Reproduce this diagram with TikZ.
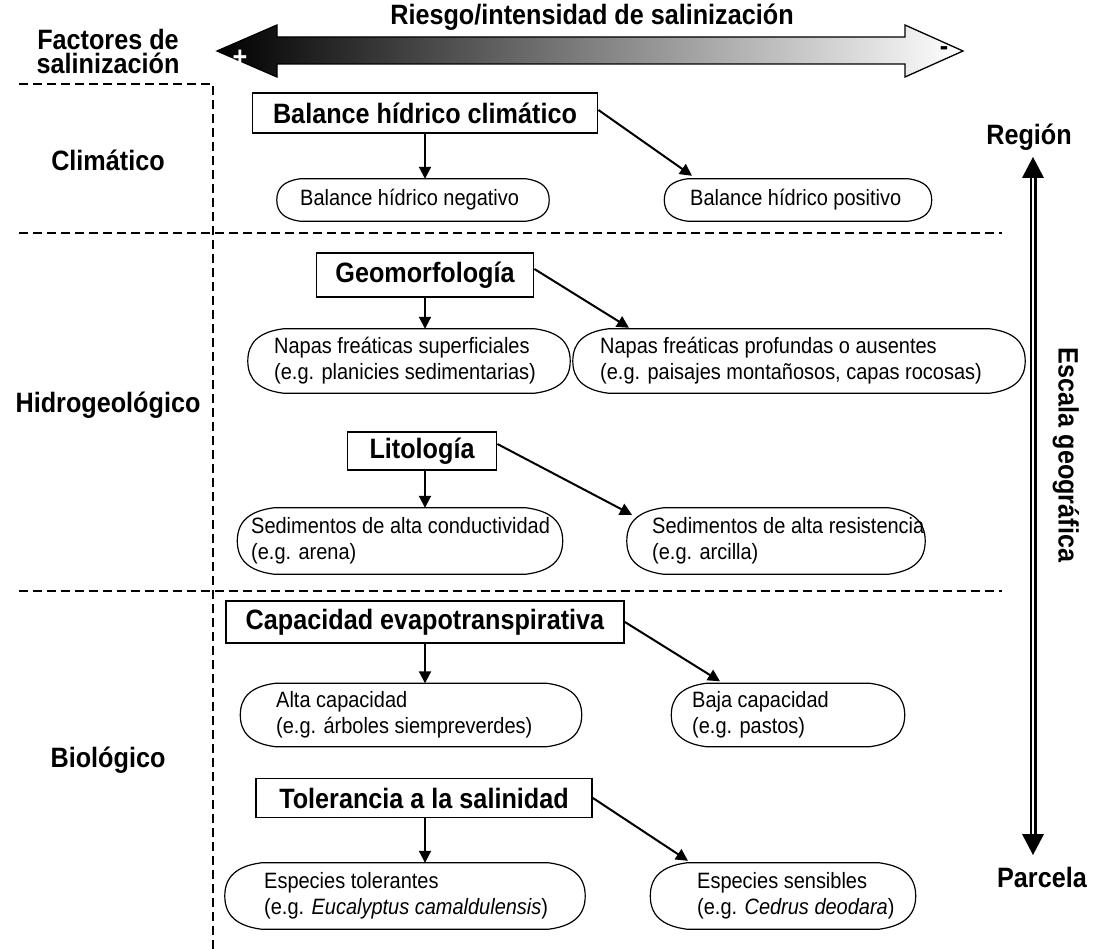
\documentclass[tikz,border=0pt]{standalone}
\usepackage{fontspec}
\setmainfont{Liberation Sans}[FakeStretch=0.9]
\usetikzlibrary{arrows.meta,calc}
\newcommand\myoval[1]{%
 \draw[ovalline] let \p1=(#1.north west), \p2=(#1.south east), \n1={\y1-\y2}, \n2={0.55*\n1} in
 ({\x1+\n2},\y1) -- ({\x2-\n2},\y1)
 .. controls ({\x2-0.3*\n2},{\y1-0.05*\n1}) and (\x2,{\y1-0.22*\n1}) .. (\x2,{(\y1+\y2)/2})
 .. controls (\x2,{\y2+0.22*\n1}) and ({\x2-0.3*\n2},{\y2+0.05*\n1}) .. ({\x2-\n2},\y2)
 -- ({\x1+\n2},\y2)
 .. controls ({\x1+0.3*\n2},{\y2+0.05*\n1}) and (\x1,{\y2+0.22*\n1}) .. (\x1,{(\y1+\y2)/2})
 .. controls (\x1,{\y1-0.22*\n1}) and ({\x1+0.3*\n2},{\y1-0.05*\n1}) .. cycle;}
\begin{document}
\begin{tikzpicture}[x=1pt,y=-1pt,
 hd/.style={draw,line width=1.8pt,font=\bfseries\fontsize{28}{30}\selectfont,inner sep=0pt,minimum height=40pt},
 oval/.style={inner sep=0pt},
 ovalline/.style={line width=1.2pt},
 otxt/.style={anchor=west,align=left,font=\fontsize{22.2}{26}\selectfont,inner sep=0pt},
 lab/.style={font=\bfseries\fontsize{28}{25}\selectfont,align=center,inner sep=0pt},
 sign/.style={font=\bfseries\fontsize{28}{28}\selectfont,inner sep=0pt,anchor=base},
 arr/.style={line width=2pt,-{Triangle[length=12pt,width=12pt]}},
 sep/.style={line width=2.6pt,dash pattern=on 9pt off 5pt}]
\useasboundingbox (0,0) rectangle (1098,949);

% title and gradient arrow
\node[lab] (title) at (592,17) {Riesgo/intensidad de salinización};
\shadedraw[left color=black,right color=white,draw=black,line width=1.3pt]
 (217,51) -- (277,25) -- (277,37) -- (905,37) -- (905,25) -- (963,51) -- (905,77) -- (905,64) -- (277,64) -- (277,77) -- cycle;
\node[sign,text=white] (plus) at (240,67) {+};
\node[sign] (minus) at (944,56) {-};

% left labels
\node[sign,text depth=0pt] (fact1) at (108,50) {Factores de};
\node[sign,text height=20pt] (fact2) at (108,74) {salinización};
\node[lab] (clim) at (108,160) {Climático};
\node[lab] (hidro) at (108,405) {Hidrogeológico};
\node[lab] (bio) at (108,760) {Biológico};

% separators
\draw[sep] (19,84) -- (213,84) -- (213,949);
\draw[sep] (19,233) -- (1002,233);
\draw[sep] (19,591) -- (1002,591);

% climatic
\node[hd,minimum width=345pt] (bhc) at (425,113) {Balance hídrico climático};
\node[oval,minimum width=272pt,minimum height=42pt] (neg) at (413,200) {};
\node[otxt] (negt) at (300,200) {Balance hídrico negativo};
\node[oval,minimum width=267pt,minimum height=42pt] (pos) at (798,200) {};
\node[otxt] (post) at (690,200) {Balance hídrico positivo};
\draw[arr] (bhc.south) -- (bhc.south |- neg.north);
\draw[arr] ($(bhc.east)+(0,-3)$) -- ($(pos.north)+(-106,-3)$);

% geomorfologia
\node[hd,minimum width=217pt,minimum height=44pt] (geo) at (425,275) {Geomorfología};
\node[oval,minimum width=322pt,minimum height=64pt] (sup) at (409,361) {};
\node[otxt] (supt) at (274,361) {Napas freáticas superficiales\\(e.g. planicies sedimentarias)};
\node[oval,minimum width=452pt,minimum height=64pt] (prof) at (799,361) {};
\node[otxt] (proft) at (600,361) {Napas freáticas profundas o ausentes\\(e.g. paisajes montañosos, capas rocosas)};
\draw[arr] (geo.south) -- (geo.south |- sup.north);
\draw[arr] ($(geo.east)+(0,-6)$) -- ($(prof.north)+(-170,-1)$);

% litologia
\node[hd,minimum width=149pt,minimum height=38pt] (lit) at (422,451) {Litología};
\node[oval,minimum width=325pt,minimum height=66pt] (cond) at (400,541) {};
\node[otxt] (condt) at (251,541) {Sedimentos de alta conductividad\\(e.g. arena)};
\node[oval,minimum width=298pt,minimum height=66pt] (res) at (776,541) {};
\node[otxt] (rest) at (652,541) {Sedimentos de alta resistencia\\(e.g. arcilla)};
\draw[arr] (lit.south -| 425,0) -- (cond.north -| 425,0);
\draw[arr] ($(lit.east)+(0,-7)$) -- ($(res.north)+(-144,7)$);

% capacidad
\node[hd,minimum width=398pt,minimum height=42pt] (cap) at (425,622) {Capacidad evapotranspirativa};
\node[oval,minimum width=341pt,minimum height=63pt] (alta) at (411,715) {};
\node[otxt] (altat) at (276,715) {Alta capacidad\\(e.g. árboles siempreverdes)};
\node[oval,minimum width=233pt,minimum height=63pt] (baja) at (788,715) {};
\node[otxt] (bajat) at (692,715) {Baja capacidad\\(e.g. pastos)};
\draw[arr] (cap.south) -- (cap.south |- alta.north);
\draw[arr] (cap.east) -- ($(baja.north)+(-68,-2)$);

% tolerancia
\node[hd,minimum width=336pt,minimum height=39pt] (tol) at (424,798) {Tolerancia a la salinidad};
\node[oval,minimum width=360pt,minimum height=66pt] (tolo) at (405,896) {};
\node[otxt] (tolt) at (264,896) {Especies tolerantes\\(e.g. \textit{Eucalyptus camaldulensis})};
\node[oval,minimum width=265pt,minimum height=66pt] (sens) at (783,896) {};
\node[otxt] (senst) at (697,896) {Especies sensibles\\(e.g. \textit{Cedrus deodara})};
\draw[arr] (425,817.5) -- (tolo.north -| 425,0);
\draw[arr] (tol.east) -- ($(sens.north)+(-95,-2)$);

\foreach \o in {neg,pos,sup,prof,cond,res,alta,baja,tolo,sens} {\myoval{\o}}

% scale
\node[lab] (reg) at (1029,137) {Región};
\node[lab] (parc) at (1042,877) {Parcela};
\coordinate (top) at (1033,157);
\coordinate (bot) at (1033,855);
\draw[double=white,line width=2.4pt,double distance=2.2pt] (1033,175) -- (1033,837);
\fill (top) -- ++(-11,21) -- ++(22,0) -- cycle;
\fill (bot) -- ++(-11,-21) -- ++(22,0) -- cycle;
\node[lab,rotate=-90] (esc) at (1066,455) {Escala geográfica};
\end{tikzpicture}
\end{document}
